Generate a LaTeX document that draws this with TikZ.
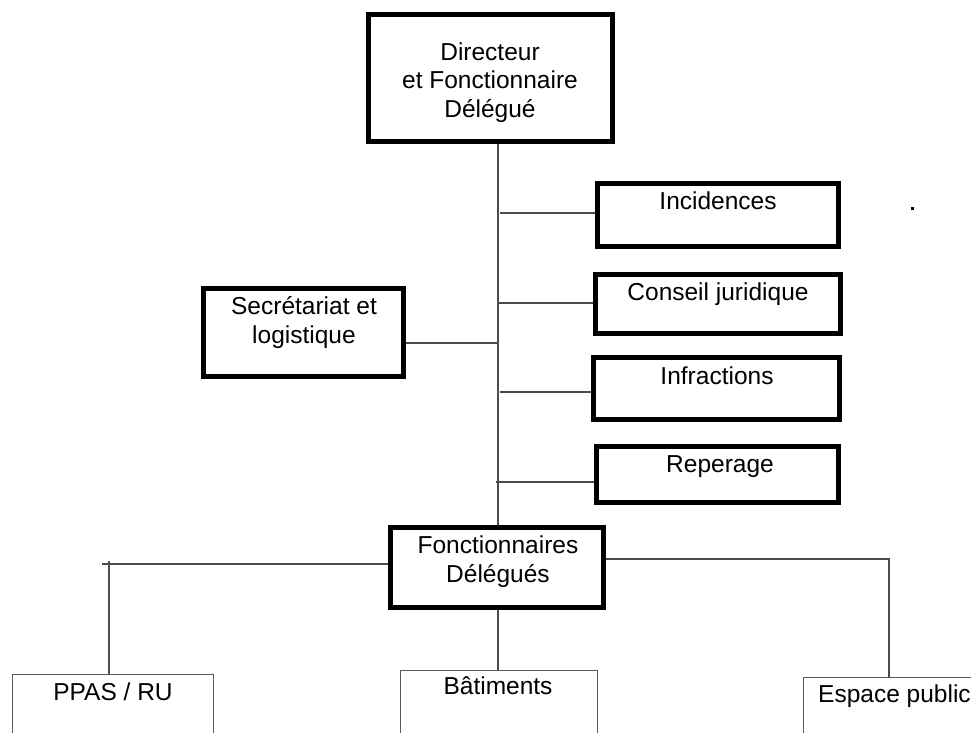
\documentclass[tikz,border=0pt]{standalone}
\usepackage{fontspec}
\setmainfont{Liberation Sans}
\begin{document}
\begin{tikzpicture}[x=1pt,y=-1pt,
  thickbox/.style={draw=black, line width=5pt, rectangle, inner sep=0pt, fill=white},
  thinbox/.style={draw=black!65, line width=1pt, rectangle, inner sep=0pt, fill=white},
  lbl/.style={font=\fontsize{24.5}{28.5}\selectfont, inner sep=0pt, align=center, text=black, anchor=base},
  conn/.style={draw=black!70, line width=1.2pt}]
\useasboundingbox (0,0) rectangle (971,732);
\clip (0,0) rectangle (971,732);
% boxes
\node[thickbox, minimum width=244pt, minimum height=127pt] (dir) at (490,77.5) {};
\node[thickbox, minimum width=241pt, minimum height=63pt] (inc) at (717.5,214.5) {};
\node[thickbox, minimum width=245pt, minimum height=59pt] (cons) at (717.5,303.5) {};
\node[thickbox, minimum width=246pt, minimum height=62pt] (infr) at (716,388) {};
\node[thickbox, minimum width=242pt, minimum height=56pt] (rep) at (717,474) {};
\node[thickbox, minimum width=200pt, minimum height=88pt] (sec) at (303,332) {};
\node[thickbox, minimum width=213pt, minimum height=80pt] (fd) at (496.5,567) {};
\node[thinbox, minimum width=201pt, minimum height=126pt] (ppas) at (112.5,737) {};
\node[thinbox, minimum width=197pt, minimum height=130pt] (bat) at (498.5,735) {};
\node[thinbox, minimum width=297pt, minimum height=123pt] (esp) at (951.5,738.5) {};
% labels (base anchor = baseline of the last line)
\node[lbl] (tdir) at (490,117) {Directeur\\et Fonctionnaire\\Délégué};
\node[lbl] (tinc) at (718,209) {Incidences};
\node[lbl] (tcons) at (718,300) {Conseil juridique};
\node[lbl] (tinfr) at (717,384) {Infractions};
\node[lbl] (trep) at (720,472) {Reperage};
\node[lbl] (tsec) at (304,343) {Secrétariat et\\logistique};
\node[lbl] (tfd) at (498,582) {Fonctionnaires\\Délégués};
\node[lbl] (tppas) at (113,700) {PPAS / RU};
\node[lbl] (tbat) at (498,694) {Bâtiments};
\node[lbl, anchor=base west] (tesp) at (818,702) {Espace public};
% connectors
\coordinate (sp) at (498,0);
\draw[conn] (dir.south -| sp) -- (fd.north -| sp);
\draw[conn] (fd.south -| sp) -- (bat.north -| sp);
\coordinate (c1) at (500,213);
\draw[conn] (c1) -- (c1 -| inc.west);
\coordinate (c2) at (498,303);
\draw[conn] (c2) -- (c2 -| cons.west);
\coordinate (c3) at (500,392);
\draw[conn] (c3) -- (c3 -| infr.west);
\coordinate (c4) at (496,482);
\draw[conn] (c4) -- (c4 -| rep.west);
\coordinate (c5) at (498,343);
\draw[conn] (c5) -- (c5 -| sec.east);
\coordinate (l1) at (102,564);
\draw[conn] (l1 -| fd.west) -- (l1);
\coordinate (lk) at (109,561);
\draw[conn] (lk) -- (lk |- ppas.north);
\coordinate (rk) at (889,559);
\draw[conn] (rk -| fd.east) -- (rk) -- (rk |- esp.north);
% stray dot
\fill[black] (911,207) rectangle (914,210);
\end{tikzpicture}
\end{document}
